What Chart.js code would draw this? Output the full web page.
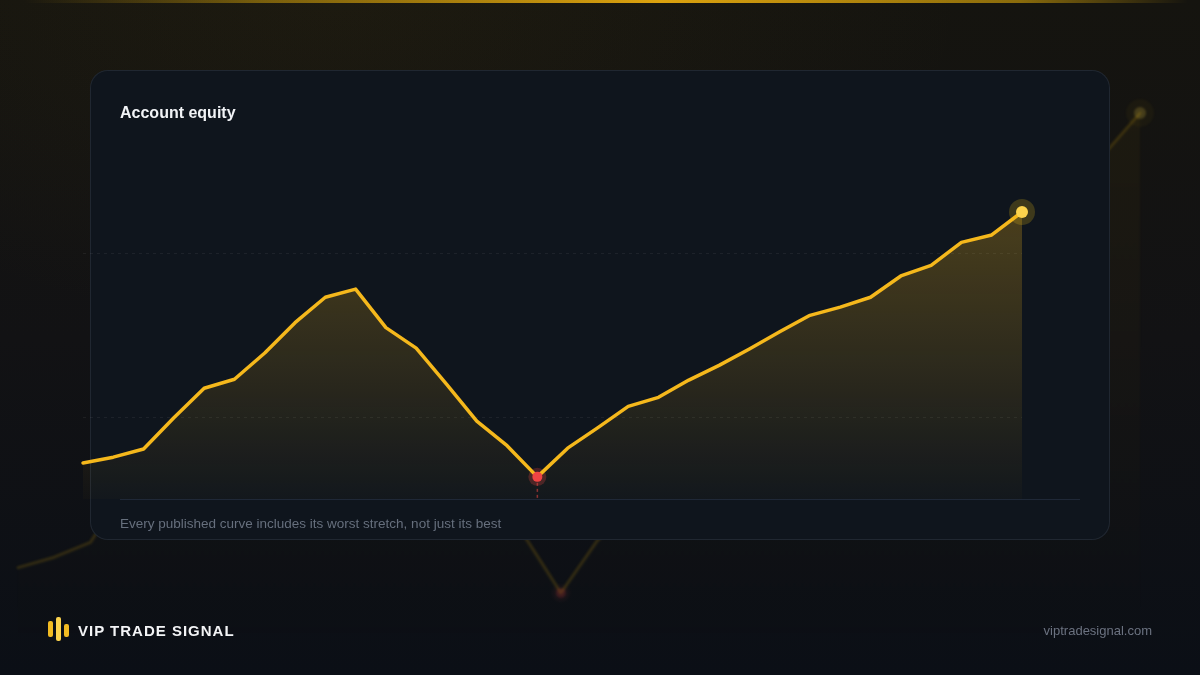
<!DOCTYPE html>
<html>
<head>
<meta charset="utf-8">
<title>Account equity</title>
<script src="https://cdn.jsdelivr.net/npm/chart.js@4.4.1/dist/chart.umd.min.js"></script>
<style>
  html, body { margin: 0; padding: 0; }
  body {
    width: 1200px; height: 675px; overflow: hidden; position: relative;
    background:
      radial-gradient(ellipse 75% 70% at 28% 0%, rgba(110, 88, 20, 0.09), rgba(0, 0, 0, 0) 70%),
      linear-gradient(180deg, #15140f 0%, #121214 50%, #0b0f16 100%);
    font-family: "Liberation Sans", Arial, Helvetica, sans-serif;
  }
  .topline {
    position: absolute; left: 0; top: 0; width: 1200px; height: 3px;
    background: linear-gradient(90deg, rgba(234,179,8,0) 2%, rgba(234,179,8,0.45) 22%, #dca20e 55%, rgba(234,179,8,0.55) 85%, rgba(234,179,8,0) 99%);
  }
  #ghost { position: absolute; left: 0; top: 0; filter: blur(0.8px); }
  .card {
    position: absolute; left: 90px; top: 70px; width: 1020px; height: 470px;
    box-sizing: border-box; border: 1px solid rgba(148, 163, 184, 0.13);
    border-radius: 18px; background: #0f151d;
  }
  #main { position: absolute; left: 0; top: 0; }
  .title {
    position: absolute; left: 120px; top: 105px; line-height: 1;
    font-weight: bold; font-size: 16px; color: #f1f3f6;
  }
  .baseline { position: absolute; left: 120px; top: 499px; width: 960px; height: 1px; background: #1f2837; }
  .note { position: absolute; left: 120px; top: 516.5px; line-height: 1; font-size: 13.5px; color: #666f7d; }
  .brand { position: absolute; left: 48px; top: 617px; height: 24px; }
  .brand i { position: absolute; width: 4.5px; border-radius: 2px; background: #f2bb22; }
  .brand .b1 { left: 0; top: 4px; height: 16px; }
  .brand .b2 { left: 8px; top: 0; height: 24px; background: #fcd34d; }
  .brand .b3 { left: 16px; top: 7px; height: 13px; }
  .brandname {
    position: absolute; left: 78px; top: 623px; line-height: 1;
    font-weight: bold; font-size: 15px; letter-spacing: 1px; color: #f3f4f6;
  }
  .url { position: absolute; right: 48px; top: 624px; line-height: 1; font-size: 13px; color: #6b7280; }
</style>
</head>
<body>
<div class="topline"></div>
<canvas id="ghost" width="1200" height="675"></canvas>
<div class="card"></div>
<canvas id="main" width="1200" height="675"></canvas>
<div class="baseline"></div>
<div class="title">Account equity</div>
<div class="note">Every published curve includes its worst stretch, not just its best</div>
<div class="brand"><i class="b1"></i><i class="b2"></i><i class="b3"></i></div>
<div class="brandname">VIP TRADE SIGNAL</div>
<div class="url">viptradesignal.com</div>

<script>
// Wochen (keine sichtbaren Achsenbeschriftungen)
const weeks = ['W1', 'W2', 'W3', 'W4', 'W5', 'W6', 'W7', 'W8', 'W9', 'W10', 'W11', 'W12', 'W13', 'W14', 'W15', 'W16',
               'W17', 'W18', 'W19', 'W20', 'W21', 'W22', 'W23', 'W24', 'W25', 'W26', 'W27', 'W28', 'W29', 'W30', 'W31', 'W32'];
// Kontostand
const equity = [9440, 9510, 9610, 9990, 10350, 10460, 10780, 11150, 11460, 11560, 11090, 10840, 10400, 9950, 9650, 9270,
                9620, 9870, 10130, 10240, 10450, 10630, 10830, 11040, 11240, 11340, 11460, 11720, 11850, 12130, 12220, 12500];
const gridValues = [10000, 12000];
const axisMin = 9000;
const axisMax = 14000;
const ghostMax = 12500;

const GOLD = '#f5b81c';
const lowIdx = equity.indexOf(Math.min(...equity));
const lastIdx = equity.length - 1;

// Halo + gestrichelte Linie unter dem Tiefpunkt
const markerPlugin = {
    id: 'markers',
    beforeDatasetsDraw(chart, args, opts) {
        const pts = chart.getDatasetMeta(0).data;
        const ctx = chart.ctx;
        const low = pts[lowIdx];
        const end = pts[lastIdx];
        ctx.save();
        ctx.strokeStyle = opts.dropColor;
        ctx.lineWidth = 1.5;
        ctx.setLineDash([3, 3]);
        ctx.beginPath();
        ctx.moveTo(low.x, low.y + 6);
        ctx.lineTo(low.x, chart.chartArea.bottom);
        ctx.stroke();
        ctx.setLineDash([]);
        ctx.fillStyle = opts.lowHalo;
        ctx.beginPath();
        ctx.arc(low.x, low.y, opts.lowHaloR, 0, Math.PI * 2);
        ctx.fill();
        ctx.fillStyle = opts.endHalo;
        ctx.beginPath();
        ctx.arc(end.x, end.y, opts.endHaloR, 0, Math.PI * 2);
        ctx.fill();
        ctx.restore();
    }
};

function areaGradient(c, top, bottom) {
    const area = c.chart.chartArea;
    if (!area) return 'transparent';
    const g = c.chart.ctx.createLinearGradient(0, area.top, 0, area.bottom);
    g.addColorStop(0, top);
    g.addColorStop(1, bottom);
    return g;
}

function makeChart(id, cfg) {
    return new Chart(document.getElementById(id), {
        type: 'line',
        data: {
            labels: weeks,
            datasets: [{
                data: equity,
                borderColor: cfg.line,
                borderWidth: cfg.width,
                borderJoinStyle: 'round',
                borderCapStyle: 'round',
                tension: 0,
                fill: 'start',
                backgroundColor: c => areaGradient(c, cfg.fillTop, cfg.fillBottom),
                pointRadius: c => c.dataIndex === lowIdx ? 5 : (c.dataIndex === lastIdx ? 6 : 0),
                pointBackgroundColor: c => c.dataIndex === lowIdx ? cfg.lowDot : cfg.endDot,
                pointBorderWidth: 0,
                pointHoverRadius: 0,
                clip: false
            }]
        },
        options: {
            responsive: false,
            animation: false,
            layout: { padding: cfg.padding },
            plugins: {
                legend: { display: false },
                tooltip: { enabled: false },
                markers: cfg.markers
            },
            scales: {
                x: { display: false },
                y: {
                    min: axisMin,
                    max: cfg.max,
                    afterBuildTicks: scale => { scale.ticks = cfg.grid.map(v => ({ value: v })); },
                    ticks: { display: false },
                    border: { display: false, dash: [3, 4] },
                    grid: { color: cfg.gridColor, drawTicks: false, lineWidth: 1 }
                }
            }
        },
        plugins: [markerPlugin]
    });
}

// Großer, blasser Hintergrund-Chart
makeChart('ghost', {
    line: 'rgba(234, 179, 8, 0.17)',
    width: 3,
    fillTop: 'rgba(234, 179, 8, 0.045)',
    fillBottom: 'rgba(234, 179, 8, 0.005)',
    lowDot: 'rgba(239, 68, 68, 0.18)',
    endDot: 'rgba(200, 170, 60, 0.25)',
    padding: { left: 18, right: 60, top: 113, bottom: 42 },
    max: ghostMax,
    grid: [],
    gridColor: 'rgba(0,0,0,0)',
    markers: { dropColor: 'rgba(0,0,0,0)', lowHalo: 'rgba(239,68,68,0.04)', lowHaloR: 9, endHalo: 'rgba(234,179,8,0.04)', endHaloR: 14 }
});

// Haupt-Chart in der Karte
makeChart('main', {
    line: GOLD,
    width: 3.5,
    fillTop: 'rgba(245, 184, 28, 0.36)',
    fillBottom: 'rgba(245, 184, 28, 0.02)',
    lowDot: '#ef4444',
    endDot: '#fcd34d',
    padding: { left: 83, right: 178, top: 89, bottom: 176 },
    max: axisMax,
    grid: gridValues,
    gridColor: 'rgba(255, 255, 255, 0.06)',
    markers: { dropColor: 'rgba(239, 68, 68, 0.55)', lowHalo: 'rgba(239, 68, 68, 0.25)', lowHaloR: 9, endHalo: 'rgba(250, 204, 21, 0.2)', endHaloR: 13 }
});
</script>
</body>
</html>
